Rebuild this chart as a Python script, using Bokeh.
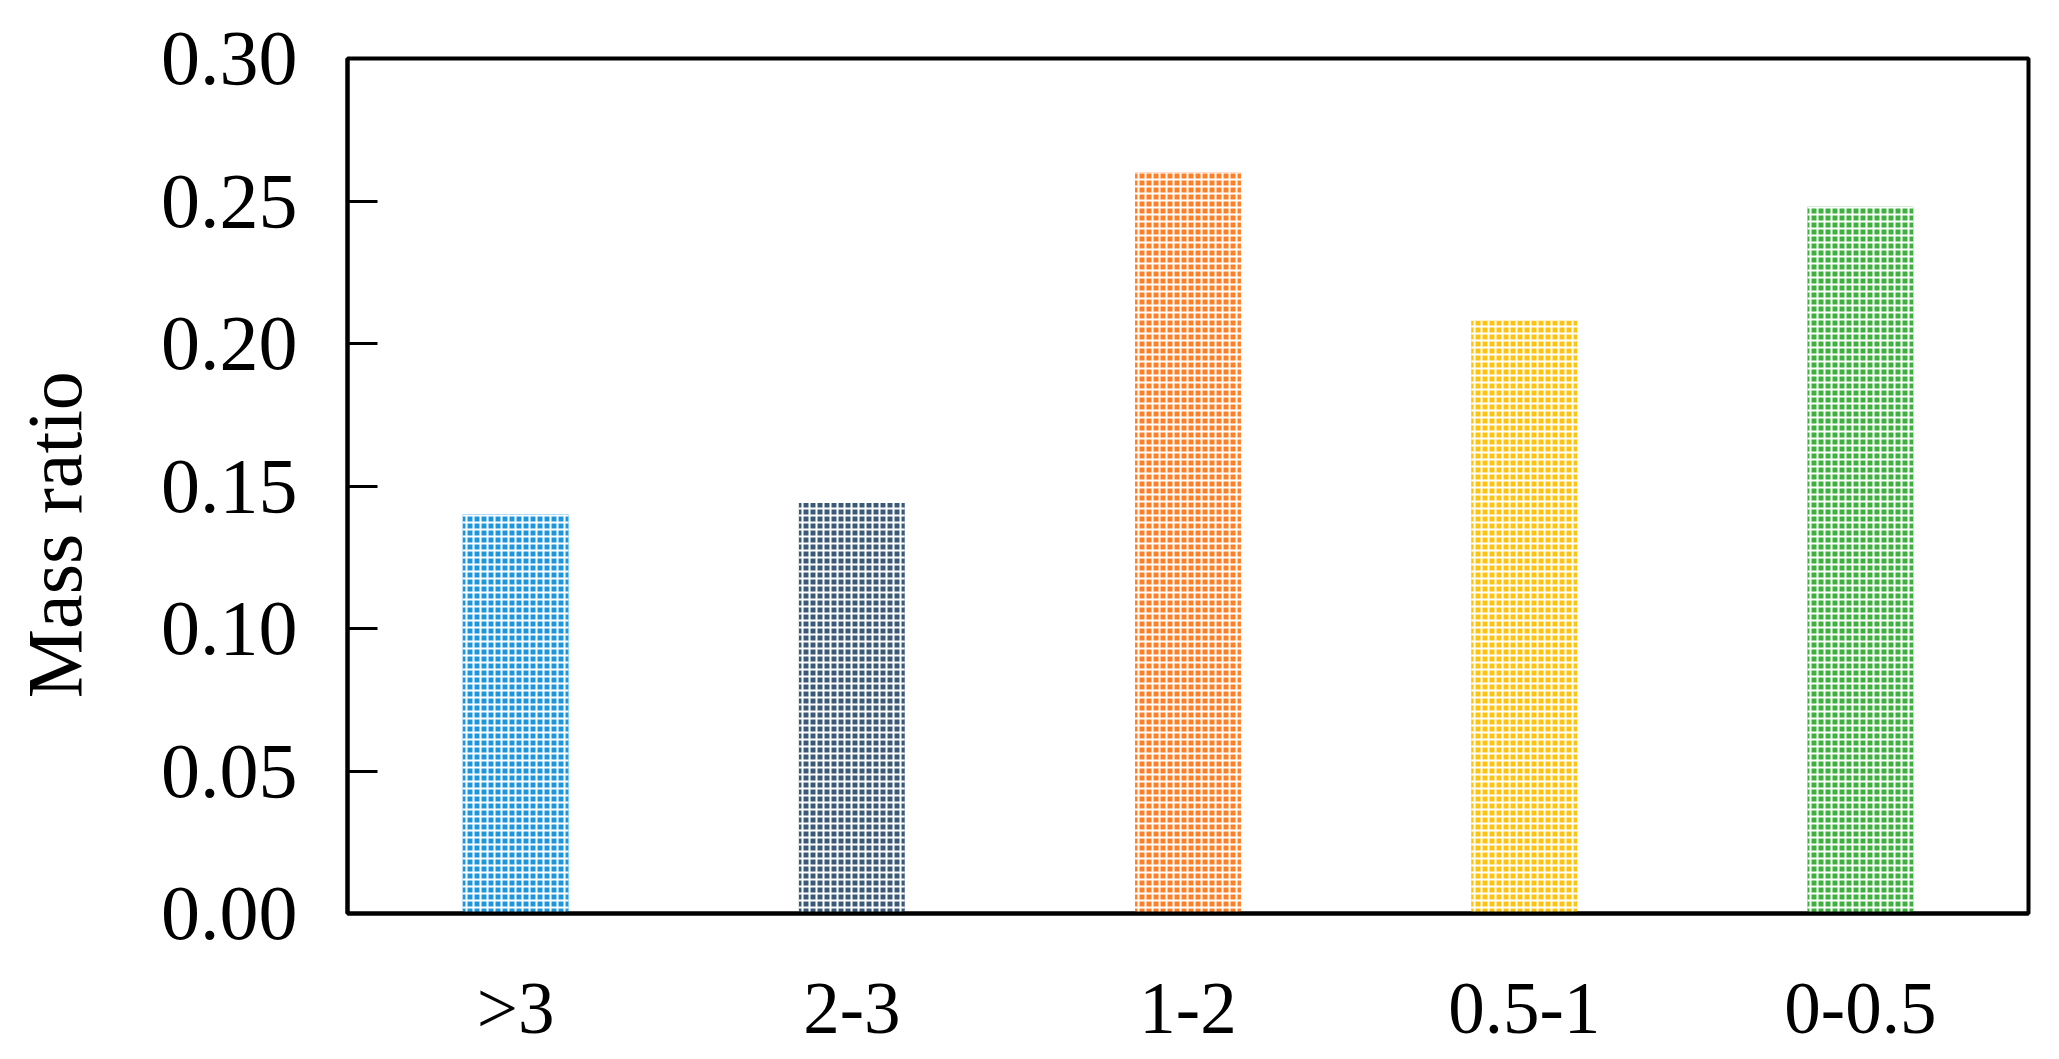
from bokeh.plotting import figure
from bokeh.models import ColumnDataSource, Range1d, FixedTicker
from bokeh.embed import file_html
from bokeh.resources import INLINE

categories = [">3", "2-3", "1-2", "0.5-1", "0-0.5"]
mass_ratio = [0.140, 0.144, 0.260, 0.208, 0.248]
y_ticks = [0.0, 0.05, 0.10, 0.15, 0.20, 0.25, 0.30]
y_tick_labels = ["0.00", "0.05", "0.10", "0.15", "0.20", "0.25", "0.30"]
bar_colors = ["#1E96DC", "#3C5A78", "#FF7F27", "#FFC20E", "#3EB03E"]

FONT = "Liberation Serif"

p = figure(
    x_range=categories,
    y_range=Range1d(0, 0.30),
    frame_width=1681,
    frame_height=855,
    output_backend="svg",
    toolbar_location=None,
    min_border_left=347,
    min_border_right=23,
    min_border_top=58,
    min_border_bottom=100,
)
p.xgrid.visible = False
p.ygrid.visible = False
p.outline_line_color = "black"
p.outline_line_width = 4
p.background_fill_color = "white"
p.border_fill_color = "white"

src = ColumnDataSource(dict(x=categories, top=mass_ratio, color=bar_colors))
p.vbar(x="x", top="top", width=0.315, source=src,
       fill_color="color", line_color=None,
       hatch_pattern="+", hatch_color="white", hatch_scale=7, hatch_weight=2)

p.yaxis.ticker = FixedTicker(ticks=y_ticks)
p.yaxis.major_label_overrides = {t: l for t, l in zip(y_ticks, y_tick_labels)}
p.yaxis.minor_tick_line_color = None
p.yaxis.major_tick_in = 30
p.yaxis.major_tick_out = 0
p.yaxis.major_tick_line_width = 3
p.yaxis.major_tick_line_color = "black"
p.yaxis.axis_line_width = 4
p.yaxis.axis_line_color = "black"
p.yaxis.major_label_standoff = 50
p.yaxis.axis_label = "Mass ratio" + "\u00a0" * 5
p.yaxis.axis_label_standoff = 60
p.yaxis.axis_label_text_font = FONT
p.yaxis.axis_label_text_font_size = "78px"
p.yaxis.axis_label_text_font_style = "normal"
p.yaxis.axis_label_text_color = "black"

p.xaxis.major_tick_line_color = None
p.xaxis.minor_tick_line_color = None
p.xaxis.axis_line_width = 4
p.xaxis.axis_line_color = "black"
p.xaxis.major_label_standoff = 48

p.yaxis.major_label_text_font_size = "78px"
p.xaxis.major_label_text_font_size = "73px"
for ax in (p.xaxis, p.yaxis):
    ax.major_label_text_font = FONT
    ax.major_label_text_color = "black"

open("out.html", "w").write(file_html(p, INLINE))
